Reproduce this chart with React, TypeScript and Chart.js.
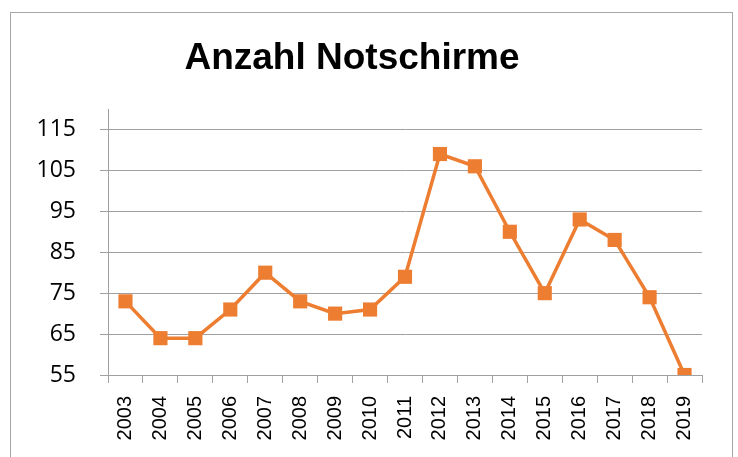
import React, { useEffect, useRef } from "react";
import { Chart, registerables } from "chart.js";

Chart.register(...registerables);

const TITLE = "Anzahl Notschirme";
const years = ["2003","2004","2005","2006","2007","2008","2009","2010","2011","2012","2013","2014","2015","2016","2017","2018","2019"];
const counts = [73, 64, 64, 71, 80, 73, 70, 71, 79, 109, 106, 90, 75, 93, 88, 74, 55];
const yTickValues = [55, 65, 75, 85, 95, 105, 115];
const yMin = 55;
const yMax = 120;

const frame = {
  id: "frame",
  beforeDraw(chart: any) {
    const ctx = chart.ctx;
    ctx.save();
    ctx.fillStyle = "#ffffff";
    ctx.fillRect(0, 0, chart.width, chart.height);
    ctx.strokeStyle = "#a6a6a6";
    ctx.lineWidth = 1;
    ctx.strokeRect(10.5, 12.5, 722, 470);
    ctx.restore();
  },
  afterDraw(chart: any) {
    const ctx = chart.ctx;
    ctx.save();
    ctx.fillStyle = "#000000";
    ctx.font = "bold 37px 'Liberation Sans', Arial, sans-serif";
    ctx.textAlign = "center";
    ctx.textBaseline = "alphabetic";
    ctx.fillText(TITLE, 352, 69);
    ctx.restore();
  },
};

export default function App() {
  const ref = useRef<HTMLCanvasElement | null>(null);
  useEffect(() => {
    document.body.style.margin = "0";
    const chart = new Chart(ref.current as HTMLCanvasElement, {
      type: "line",
      data: {
        labels: years,
        datasets: [
          {
            data: counts,
            borderColor: "#ED7D31",
            backgroundColor: "#ED7D31",
            borderWidth: 3.5,
            pointStyle: "rect",
            pointRadius: 10,
            pointBorderWidth: 0,
            pointBackgroundColor: "#ED7D31",
            tension: 0,
          },
        ],
      },
      options: {
        animation: false,
        responsive: false,
        devicePixelRatio: 1,
        layout: { padding: { left: 0, top: 109, right: 36, bottom: 0 } },
        plugins: { legend: { display: false }, title: { display: false }, tooltip: { enabled: false } },
        scales: {
          x: {
            offset: true,
            grid: {
              offset: true,
              drawOnChartArea: false,
              drawTicks: true,
              tickLength: 8,
              color: "#a0a0a0",
            },
            border: { color: "#a0a0a0", width: 1 },
            ticks: {
              minRotation: 90,
              maxRotation: 90,
              autoSkip: false,
              padding: 13,
              color: "#000000",
              font: { family: "'Liberation Sans', Arial, sans-serif", size: 20 },
            },
            afterFit(scale: any) {
              scale.height = 82;
            },
          },
          y: {
            min: yMin,
            max: yMax,
            grid: { color: "#a0a0a0", tickLength: 8, lineWidth: 1 },
            border: { color: "#a0a0a0", width: 1 },
            ticks: {
              padding: 24,
              color: "#000000",
              font: { family: "'Open Sans', sans-serif", size: 23 },
            },
            afterBuildTicks(scale: any) {
              scale.ticks = yTickValues.map((v) => ({ value: v }));
            },
            afterFit(scale: any) {
              scale.width = 108;
            },
          },
        },
      },
      plugins: [frame],
    });
    return () => chart.destroy();
  }, []);
  return (
    <div style={{ position: "absolute", left: 0, top: 0, width: 738, height: 457 }}>
      <canvas ref={ref} width={738} height={457} />
    </div>
  );
}
